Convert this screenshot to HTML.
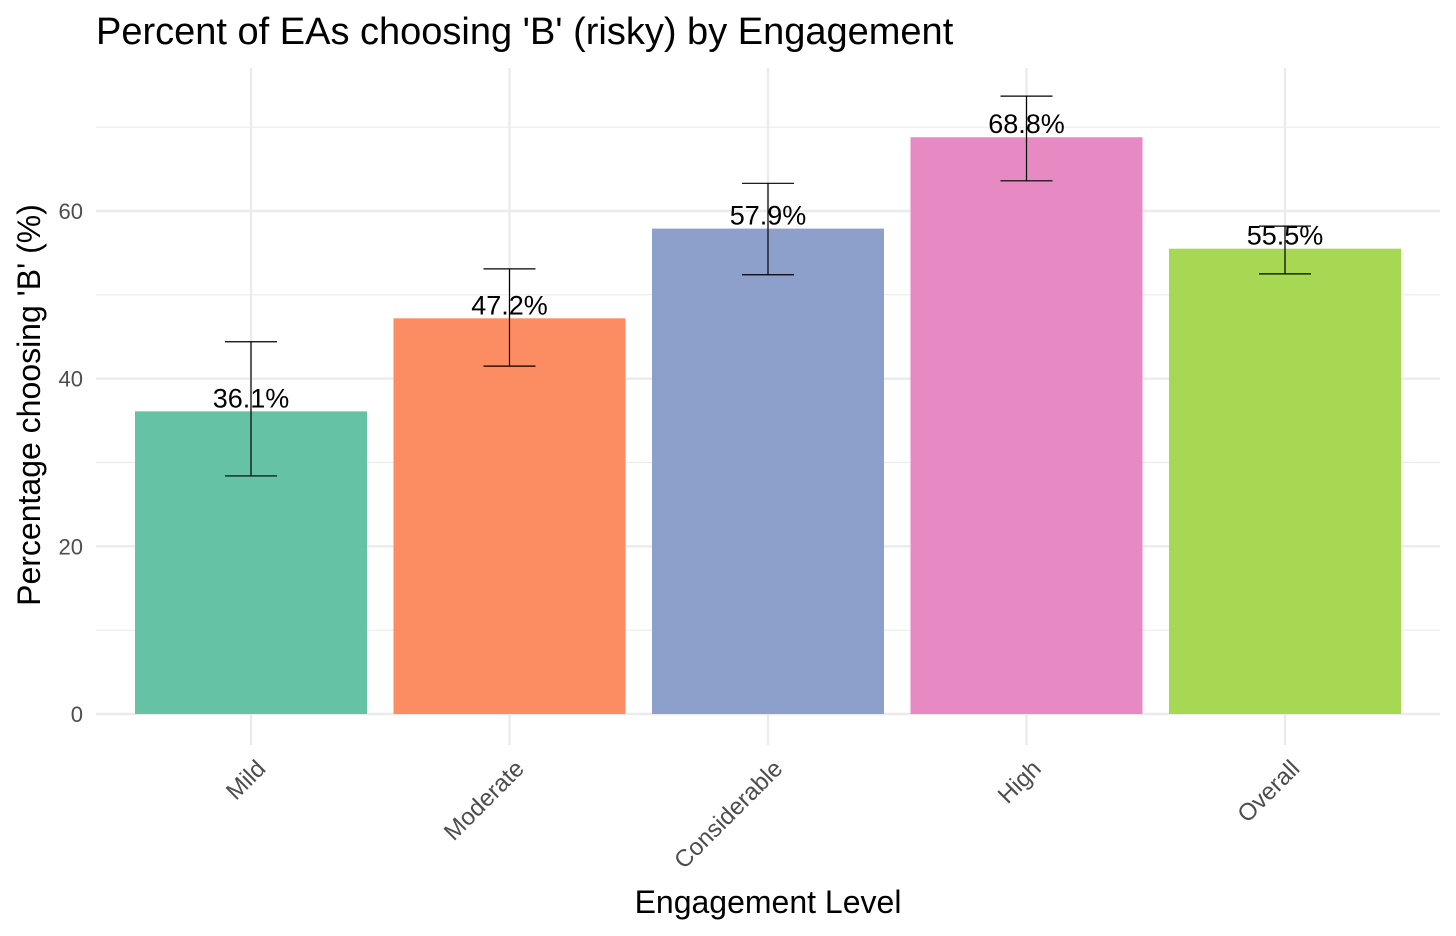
<!DOCTYPE html>
<html><head><meta charset="utf-8"><style>
html,body{margin:0;padding:0;background:#fff;}
svg{display:block;font-family:"Liberation Sans",Arial,sans-serif;}
</style></head><body>
<svg id="chart" width="1456" height="936">
<text x="96" y="44" font-size="38" fill="#000">Percent of EAs choosing 'B' (risky) by Engagement</text>
<text transform="translate(40,405) rotate(-90)" text-anchor="middle" font-size="32" fill="#000">Percentage choosing 'B' (%)</text>
<text x="768" y="913" text-anchor="middle" font-size="32" fill="#000">Engagement Level</text>
<g id="grid"></g><g id="bars"></g><g id="axes"></g>
</svg>
<script>
const categories=["Mild","Moderate","Considerable","High","Overall"];
const values=[36.1,47.2,57.9,68.8,55.5];
const lowers=[28.4,41.5,52.4,63.6,52.5];
const uppers=[44.4,53.1,63.3,73.7,58.2];
const colors=["#66c2a5","#fc8d62","#8da0cb","#e78ac3","#a6d854"];
const yTicks=[0,20,40,60];
const yMinor=[10,30,50,70];
const NS="http://www.w3.org/2000/svg";
const y0=714,pxPer=503/60,x0=251,step=258.5,bw=232,plotLeft=96,plotRight=1440,plotTop=68;
const yS=v=>y0-v*pxPer, xS=i=>x0+i*step;
function mk(t,a,p){const e=document.createElementNS(NS,t);for(const k in a)e.setAttribute(k,a[k]);p.appendChild(e);return e;}
const g=document.getElementById('grid'),b=document.getElementById('bars'),ax=document.getElementById('axes');
yMinor.forEach(v=>{const l=mk('line',{x1:plotLeft,x2:plotRight,y1:yS(v),y2:yS(v),stroke:'#ebebeb','stroke-width':1.2},g);

});
yTicks.forEach(v=>{const l=mk('line',{x1:plotLeft,x2:plotRight,y1:yS(v),y2:yS(v),stroke:'#ebebeb','stroke-width':2.4},g);


const t=mk('text',{x:83,y:yS(v)+8,'text-anchor':'end','font-size':22,fill:'#4d4d4d'},ax);t.textContent=v;

});
categories.forEach((c,i)=>{const x=xS(i);
const l=mk('line',{x1:x,x2:x,y1:plotTop,y2:745,stroke:'#ebebeb','stroke-width':2.4},g);


const r=mk('rect',{x:x-bw/2,y:yS(values[i]),width:bw,height:y0-yS(values[i]),fill:colors[i]},b);


const e=mk('path',{d:`M${x-26},${yS(uppers[i])}H${x+26}M${x},${yS(uppers[i])}V${yS(lowers[i])}M${x-26},${yS(lowers[i])}H${x+26}`,stroke:'#000','stroke-width':1.2,fill:'none'},b);


const t=mk('text',{x:x,y:yS(values[i])-4,'text-anchor':'middle','font-size':27,fill:'#000'},b);t.textContent=values[i].toFixed(1)+'%';


const xl=mk('text',{transform:`translate(${x+16},${770}) rotate(-45)`,'text-anchor':'end','font-size':24,fill:'#4d4d4d'},ax);xl.textContent=c;

});
</script>
</body></html>
